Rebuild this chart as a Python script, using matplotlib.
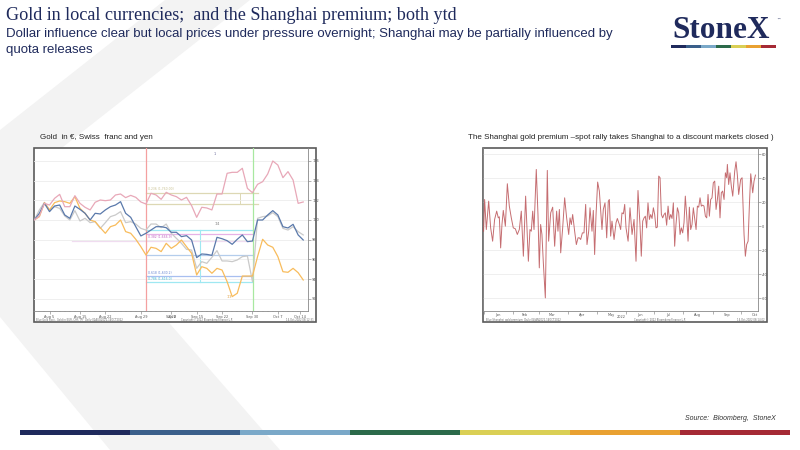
import matplotlib
matplotlib.use("Agg")
import matplotlib.pyplot as plt
from matplotlib.patches import Polygon, Rectangle
import numpy as np

W, H = 800, 450
NAVY = "#1f2a5c"

# ---------------- data: left chart (indexed to 100) ----------------
# index axis = trading days Aug 2 - Oct 14 2022
gold_tick_idx = [3, 9, 14, 21, 27, 32, 37, 43, 48, 52.4]
gold_tick_lbl = ["Aug 5", "Aug 15", "Aug 22", "Aug 29", "Sep 8", "Sep 15", "Sep 22", "Sep 30", "Oct 7", "Oct 14"]

gold_pink = [100, 100.41, 101.69, 101.52, 102.2, 102.6, 101.35, 101.35, 102.47, 101.69,
             101.29, 101.02, 101.8, 102.03, 101.96, 102.03, 102.54, 102.64, 102.27, 102.5,
             102.3, 101.83, 101.62, 102.71, 102.54, 102.1, 102.81, 102.54, 102.37, 102.03,
             102.3, 101.46, 100.27, 101.29, 101.22, 101.02, 102.64, 102.64, 104.74, 104.84,
             104.84, 105.25, 103.21, 102.77, 103.62, 103.89, 104.67, 105.99, 105.58, 104.3,
             104.91, 104.06, 101.69, 101.83]
gold_blue = [100, 100.68, 101.69, 100.85, 101.42, 101.52, 100.51, 100.17, 101.42, 101.08,
             100.68, 100, 100.68, 100.61, 101.02, 101.35, 101.52, 101.86, 100.68, 100.27,
             99.32, 98.38, 98.65, 98.98, 99.32, 99.32, 99.22, 98.75, 98.75, 98.31,
             98.41, 97.97, 96.18, 96.55, 96.51, 96.41, 98.24, 98.1, 97.9, 97.53,
             98.04, 98.48, 97.8, 97.87, 100, 100, 100.51, 100.95, 100.51, 99.32,
             99.19, 99.56, 98.48, 97.97]
gold_gray = [100, 101.02, 101.79, 101.02, 101.35, 101.18, 100.41, 100, 100.95, 99.9,
             100.17, 99.73, 99.83, 99.15, 99.73, 100.34, 100.51, 100.85, 99.73, 99.83,
             99.59, 99.15, 98.98, 99.59, 99.59, 99.22, 99.59, 98.65, 98.14, 97.63,
             97.02, 96.95, 95.09, 95.77, 95.6, 96.21, 96.89, 95.84, 95.84, 95.77,
             95.94, 96.28, 96.35, 93.74, 100.17, 100.34, 100.41, 100.74, 100.34, 99.15,
             98.98, 99.32, 98.82, 98.48]
gold_orange = [100, 100.34, 101.76, 101.02, 101.76, 101.93, 101.86, 101.69, 102.37, 101.18,
               100.68, 100, 99.83, 99.22, 98.65, 99.32, 99.49, 100, 98.82, 98.65,
               98.04, 97.29, 96.45, 97.23, 97.12, 96.79, 97.63, 97.12, 97.46, 97.97,
               97.29, 96.62, 94.42, 95.26, 95.09, 94.59, 95.09, 94.92, 93.74, 92.22,
               92.56, 94.31, 94.31, 94.31, 96.28, 98.04, 97.46, 97.23, 96.28, 94.75,
               94.69, 95.09, 94.65, 93.91]
gold_yticks = [92, 94, 96, 98, 100, 102, 104, 106]
# drawn study levels: (value, start index, end index, colour)
study_levels = [(102.78, 22, 44.1, "#ddd8b4"), (101.59, 22, 44.1, "#ddd8b4"),
                (98.98, 22, 43, "#9fe8f2"), (98.54, 22, 43, "#e6b2e6"),
                (97.87, 7.4, 43, "#f0dcf0"), (96.41, 22, 43, "#b4cdec"),
                (94.31, 22, 43, "#a8bff0"), (93.74, 22, 43, "#9fe8f2")]

# ---------------- data: right chart (Shanghai premium, $/oz) ----------------
premium_day = [0, 1.1, 2.9, 5.4, 7.5, 9.6, 11.7, 13.9, 15.6, 16.7, 18.1, 19.5, 20.9, 23.1, 25.2,
               27.3, 29.4, 31.5, 33.7, 35.8, 37.9, 40.0, 42.2, 44.6, 47.5, 49.2, 50.6, 52.1, 53.5,
               55.9, 57.7, 59.1, 60.5, 61.9, 63.4, 65.5, 67.6, 69.0, 71.2, 73.3, 75.4, 77.5, 78.9,
               80.4, 81.8, 83.9, 86.0, 88.1, 90.3, 91.7, 93.1, 94.5, 96.6, 98.4, 100.2, 101.6,
               103.0, 104.8, 106.5, 108.3, 109.7, 111.5, 112.9, 115.0, 116.4, 117.8, 119.3, 121.0,
               122.8, 124.2, 125.6, 127.0, 128.8, 130.6, 132.3, 133.4, 134.8, 136.2, 138.4, 140.5,
               141.9, 144.0, 145.4, 146.8, 148.3, 149.7, 151.1, 153.3, 155.3, 157.5, 159.6, 161.7,
               163.8, 165.9, 167.3, 168.8, 170.2, 171.6, 173.0, 174.4, 175.9, 177.3, 178.7, 180.1,
               181.5, 182.9, 184.3, 185.8, 187.2, 188.6, 190.0, 191.4, 192.8, 194.2, 195.7, 197.1,
               198.5, 199.9, 201.3, 202.7, 204.1, 205.6, 207.0, 208.4, 209.8, 211.2, 212.6, 214.0,
               215.5, 216.9, 218.3, 219.7, 221.1, 222.5, 223.9, 225.4, 226.8, 228.2, 229.6, 231.0,
               232.4, 233.8, 235.3, 236.7, 238.1, 239.5, 240.9, 242.3, 243.7, 245.2, 246.6, 248.0,
               249.4, 250.8, 252.2, 253.6, 255.1, 256.5, 257.9, 258.6, 260.0, 261.4, 262.8, 264.3,
               266.4, 267.8, 269.2, 270.6, 272.7, 274.2, 276.3, 277.7, 279.1, 280.6, 282.0, 283.4,
               285.5, 286.9, 288.4]
premium_val = [-4.2, 22.2, -2.8, 20.8, -1.4, -12.5, 5.6, 12.5, 6.9, 7.8, -18.1, 1.4, 13.1, 0, 35.3,
               16.7, 6.9, -1.4, -2.2, -6.9, -2.8, 12.5, -25.0, 25.0, -29.2, -2.8, -4.2, 12.5, -2.8,
               47.2, 9.7, -34.7, 1.4, -6.9, -30.6, -59.7, 46.4, -12.5, 11.1, 15.8, -16.7, 12.5, -4.2,
               13.9, -22.2, -1.4, 23.6, 6.9, -6.9, 6.9, 1.4, 9.7, -4.2, -15.3, -9.7, -9.7,
               -11.1, -5.6, -5.6, 18.1, -15.3, -4.2, 15.3, -4.2, 13.1, -23.6, 9.7, 36.7,
               29.2, 12.5, -2.8, 13.9, 19.4, -9.7, 20.8, 22.2, -8.3, 4.2, -11.1, 2.8,
               6.4, 1.4, -2.8, 11.1, 10.3, 18.1, -1.4, -12.5, 15.3, -6.9, 5.6, -29.2,
               29.7, 1.4, -25.0, 4.2, 6.9, 8.3, -1.4, 19.4, 5.6, 9.7, 6.4, 15.3,
               9.7, -1.4, -0.8, 41.7, 40.3, 9.7, 6.9, 9.7, 11.1, 0.8, 16.7, 5.6,
               9.7, 6.4, 19.4, -16.7, 1.4, 15.3, 11.1, -6.9, -1.4, -5.6, 2.8, 25.0,
               8.3, -12.5, 15.8, -2.8, 1.4, 15.3, 6.9, -2.8, 16.7, 15.8, 23.6, 16.7,
               17.5, 16.7, 8.3, 6.9, 26.4, 8.3, 22.2, 23.6, 36.1, 37.5, 13.9, 22.2,
               33.3, 6.9, 27.8, 29.2, 22.2, 44.4, 40.3, 51.4, 34.7, 44.4, 33.3, 25.0,
               45.8, 53.6, 42.5, 26.4, 38.9, 40.3, -6.9, -25.0, -15.3, -12.5, 18.1, 43.6,
               27.8, 37.5, 42.5]
premium_yticks = [-60, -40, -20, 0, 20, 40, 60]
month_mid = [15, 44, 73, 104, 135, 166, 196, 227, 258, 288]
month_start = [0, 31, 59, 90, 120, 151, 181, 212, 243, 273]
month_lbl = ["Jan", "Feb", "Mar", "Apr", "May", "Jun", "Jul", "Aug", "Sep", "Oct"]

bar_colors = ["#1f2a5c", "#3a5f8a", "#7aa8c8", "#2c6a4a", "#dacf55", "#e9a131", "#a52a35"]

# ---------------- figure ----------------
fig = plt.figure(figsize=(8, 4.5), dpi=100)
fig.patch.set_facecolor("white")

def fx(px):
    return px / W

def fy(py):
    return 1 - py / H

# watermark "X"
wm = [(165, 0), (250, 0), (35, 169), (280, 450), (110, 450), (0, 317), (0, 130)]
fig.patches.append(Polygon([(fx(a), fy(b)) for a, b in wm], closed=True,
                           transform=fig.transFigure, facecolor="#f3f3f3",
                           edgecolor="none", zorder=0))

# header
fig.text(fx(6), fy(15.5), "Gold in local currencies;  and the Shanghai premium; both ytd",
         family="Liberation Serif", fontsize=13.1, color=NAVY, va="center", ha="left")
fig.text(fx(6), fy(34.5), "Dollar influence clear but local prices under pressure overnight; Shanghai may be partially influenced by",
         family="Liberation Sans", fontsize=9.55, color=NAVY, va="center", ha="left")
fig.text(fx(6), fy(50.5), "quota releases",
         family="Liberation Sans", fontsize=9.55, color=NAVY, va="center", ha="left")

# logo
fig.text(fx(721.5), fy(31), "StoneX", family="Liberation Serif", fontweight="bold",
         fontsize=22.5, color=NAVY, ha="center", va="center")
fig.text(fx(778), fy(20), "™", family="DejaVu Sans", fontsize=3, color=NAVY, ha="center", va="center")
lx0, lx1 = 671, 776
seg = (lx1 - lx0) / len(bar_colors)
for i, c in enumerate(bar_colors):
    fig.patches.append(Rectangle((fx(lx0 + i * seg), fy(48)), seg / W, 3.5 / H,
                                 transform=fig.transFigure, facecolor=c, edgecolor="none"))

# bottom colour bar
bx0, bx1 = 20, 790
seg = (bx1 - bx0) / len(bar_colors)
for i, c in enumerate(bar_colors):
    fig.patches.append(Rectangle((fx(bx0 + i * seg), fy(435)), seg / W, 5.5 / H,
                                 transform=fig.transFigure, facecolor=c, edgecolor="none"))
fig.text(fx(776), fy(418), "Source:  Bloomberg,  StoneX", family="Liberation Sans",
         style="italic", fontsize=5, color="#333333", ha="right", va="center")

# ---------------- chart frames ----------------
def frame(x0, y0, x1, y1):
    fig.patches.append(Rectangle((fx(x0), fy(y1)), (x1 - x0) / W, (y1 - y0) / H,
                                 transform=fig.transFigure, facecolor="white",
                                 edgecolor="#5a5a5a", linewidth=1.2, zorder=1))

frame(34.3, 147.7, 316, 321.7)
frame(483.3, 147.7, 767, 321.7)

tiny = dict(fontsize=2.5, color="#555555", family="DejaVu Sans")
foot = dict(fontsize=1.8, color="#666666", family="DejaVu Sans", va="center")

# ---------------- left chart ----------------
axL = fig.add_axes([fx(34.3), fy(310.7), (308.3 - 34.3) / W, (310.7 - 147.7) / H], zorder=2)
axL.set_facecolor("none")
idx = np.arange(len(gold_pink))
for v, a, b, c in study_levels:
    axL.plot([a, b], [v, v], color=c, lw=0.9, zorder=1)
axL.plot([32.65, 32.65], [93.74, 98.98], color="#9fe8f2", lw=0.8, zorder=1)
axL.plot([40.5, 40.5], [101.59, 102.78], color="#ddd8b4", lw=0.7, zorder=1)
axL.axvline(22, color="#f4a0a0", lw=0.9, zorder=2)
axL.axvline(43.1, color="#a8e8a0", lw=0.9, zorder=2)
axL.plot(idx, gold_gray, color="#cacaca", lw=0.9, zorder=3)
axL.plot(idx, gold_orange, color="#f8bc5c", lw=0.9, zorder=3)
axL.plot(idx, gold_blue, color="#5a79ab", lw=0.9, zorder=4)
axL.plot(idx, gold_pink, color="#e8a8b8", lw=0.9, zorder=4)
axL.set_xlim(0, 54)
axL.set_ylim(90.79, 107.34)
axL.yaxis.tick_right()
axL.set_yticks(gold_yticks)
axL.set_yticklabels([str(v) for v in gold_yticks], **tiny)
axL.set_xticks(gold_tick_idx)
axL.set_xticklabels(gold_tick_lbl, **tiny)
axL.set_xticks(idx, minor=True)
axL.tick_params(axis="both", which="major", length=2, width=0.4, color="#777777", pad=0.8)
axL.tick_params(axis="x", which="minor", length=1, width=0.3, color="#999999")
axL.grid(axis="y", color="#ececec", lw=0.6, zorder=0)
for s in ["top", "left"]:
    axL.spines[s].set_visible(False)
for s in ["right", "bottom"]:
    axL.spines[s].set_color("#888888")
    axL.spines[s].set_linewidth(0.6)
axL.text(27.1, -0.026, "2022", transform=axL.get_xaxis_transform(), ha="center", va="top", **tiny)
axL.text(22.5, 102.9, "0.236 (1,760.00)", fontsize=2.2, color="#c8c090", va="bottom")
axL.text(22.5, 98.1, "0.382 (1,666.9)", fontsize=2.2, color="#c060c0", va="bottom")
axL.text(22.5, 94.45, "0.618 (1,630.2)", fontsize=2.2, color="#6080d0", va="bottom")
axL.text(22.5, 93.85, "0.786 (1,616.0)", fontsize=2.2, color="#40b8d0", va="bottom")
axL.text(35.5, 106.6, "1", fontsize=2.6, color="#6a6a9a", ha="center")
axL.text(36, 99.5, "1/4", fontsize=2.4, color="#777777", ha="center")
axL.text(38.5, 92.1, "1/3", fontsize=2.4, color="#e0a040", ha="center")
fig.text(fx(40), fy(137), "Gold  in €, Swiss  franc and yen", family="Liberation Sans",
         fontsize=5.8, color="#222222", ha="left", va="center")
fig.text(fx(36), fy(319.6), "Blue Gold Spot - Gold in EUR, CHF, JPY  Daily 02AUG2022-14OCT2022",
         ha="left", **foot)
fig.text(fx(207), fy(319.6), "Copyright© 2022 Bloomberg Finance L.P.", ha="center", **foot)
fig.text(fx(314), fy(319.6), "14-Oct-2022 08:12:31", ha="right", **foot)

# ---------------- right chart ----------------
axR = fig.add_axes([fx(483.3), fy(311), (758 - 483.3) / W, (311 - 147.7) / H], zorder=2)
axR.set_facecolor("none")
axR.plot(premium_day, premium_val, color="#bb5458", lw=0.7, alpha=0.85, zorder=3)
axR.set_xlim(-0.3, 291.1)
axR.set_ylim(-70.6, 65.3)
axR.yaxis.tick_right()
axR.set_yticks(premium_yticks)
axR.set_yticklabels([str(v) for v in premium_yticks], **tiny)
axR.set_xticks(month_mid)
axR.set_xticklabels(month_lbl, **tiny)
axR.set_xticks(month_start, minor=True)
axR.tick_params(axis="x", which="major", length=0, pad=1.2)
axR.tick_params(axis="y", which="major", length=2, width=0.4, color="#777777", pad=0.8)
axR.tick_params(axis="x", which="minor", length=2, width=0.4, color="#777777")
axR.grid(axis="y", color="#ececec", lw=0.6, zorder=0)
axR.spines["top"].set_visible(False)
for s in ["right", "bottom", "left"]:
    axR.spines[s].set_color("#888888")
    axR.spines[s].set_linewidth(0.6)
axR.text(146, -0.026, "2022", transform=axR.get_xaxis_transform(), ha="center", va="top", **tiny)
fig.text(fx(468), fy(137), "The Shanghai gold premium \u2013spot rally takes Shanghai to a discount markets closed )",
         family="Liberation Sans", fontsize=5.8, color="#222222", ha="left", va="center")
fig.text(fx(486), fy(319.6), "Blue Shanghai gold premium  Daily 04JAN2022-14OCT2022",
         ha="left", **foot)
fig.text(fx(660), fy(319.6), "Copyright© 2022 Bloomberg Finance L.P.", ha="center", **foot)
fig.text(fx(765), fy(319.6), "14-Oct-2022 08:14:02", ha="right", **foot)

fig.savefig("out.png", dpi=100, facecolor="white")
